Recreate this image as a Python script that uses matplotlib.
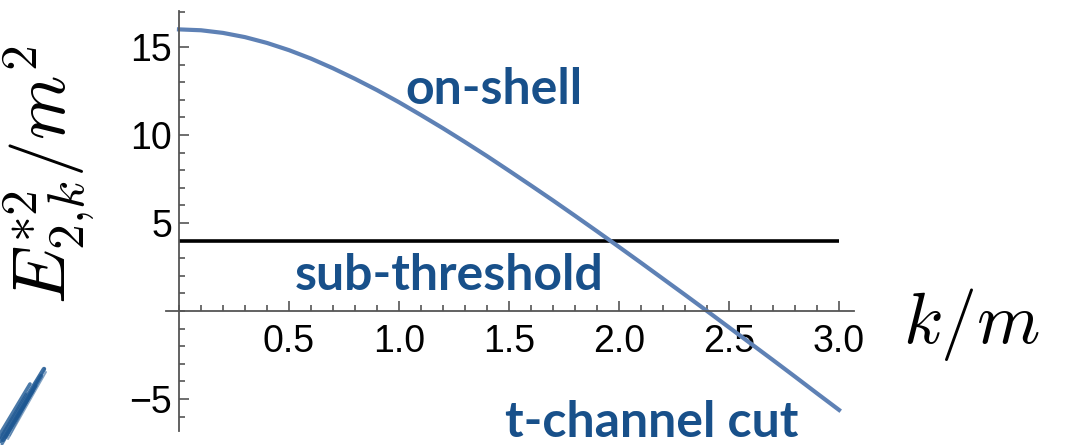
import matplotlib
matplotlib.use("Agg")
import matplotlib.pyplot as plt
from matplotlib.lines import Line2D
from matplotlib.ticker import MultipleLocator, FixedLocator

plt.rcParams["font.family"] = ["Liberation Sans", "DejaVu Sans"]
plt.rcParams["mathtext.fontset"] = "cm"

# Centre-of-mass energy squared of the two-particle state vs spectator momentum
k_over_m = [0.0, 0.1, 0.2, 0.3, 0.4, 0.5, 0.6, 0.7, 0.8, 0.9, 1.0,
            1.1, 1.2, 1.3, 1.4, 1.5, 1.6, 1.7, 1.8, 1.9, 2.0,
            2.1, 2.2, 2.3, 2.4, 2.5, 2.6, 2.7, 2.8, 2.9, 3.0]
E2_star_sq = [16.00, 15.95, 15.80, 15.56, 15.23, 14.82, 14.34, 13.79, 13.19, 12.55, 11.86,
              11.13, 10.38, 9.60, 8.80, 7.97, 7.13, 6.28, 5.41, 4.53, 3.64,
              2.74, 1.83, 0.92, 0.00, -0.93, -1.86, -2.79, -3.73, -4.68, -5.62]

threshold = 4.0            # (2m)^2 in units of m^2
threshold_span = [0.0, 3.0]

x_major = [0.5, 1.0, 1.5, 2.0, 2.5, 3.0]
x_labels = ["0.5", "1.0", "1.5", "2.0", "2.5", "3.0"]
y_major = [-5, 5, 10, 15]
y_labels = ["\u22125", "5", "10", "15"]

region_labels = ["on-shell", "sub-threshold", "t-channel cut"]
region_pos = [(1.027, 11.76), (0.527, 1.19), (1.482, -7.16)]

curve_color = "#5e81b5"
label_color = "#18508a"
axis_color = "#555555"

fig = plt.figure(figsize=(10.71, 4.45), dpi=100)
ax = fig.add_axes([0.1548, 0.0321, 0.6430, 0.9434])
ax.set_xlim(-0.06, 3.07)
ax.set_ylim(-6.8, 17.05)

for side in ("top", "right"):
    ax.spines[side].set_visible(False)
ax.spines["left"].set_position(("data", 0))
ax.spines["bottom"].set_position(("data", 0))
for side in ("left", "bottom"):
    ax.spines[side].set_color(axis_color)
    ax.spines[side].set_linewidth(1.3)

ax.xaxis.set_major_locator(FixedLocator(x_major))
ax.set_xticklabels(x_labels, fontfamily="Liberation Sans", fontsize=27)
ax.xaxis.set_minor_locator(MultipleLocator(0.1))
ax.yaxis.set_major_locator(FixedLocator(y_major))
ax.set_yticklabels(y_labels, fontfamily="Liberation Sans", fontsize=27)
ax.yaxis.set_minor_locator(MultipleLocator(1))

ax.tick_params(which="both", direction="in", color=axis_color, width=1.2)
ax.tick_params(which="major", length=7)
ax.tick_params(which="minor", length=4)
ax.tick_params(axis="x", which="major", pad=9)
ax.tick_params(axis="y", which="major", pad=5)

ax.plot(threshold_span, [threshold, threshold], color="black", lw=2.6, solid_capstyle="butt")
ax.plot(k_over_m, E2_star_sq, color=curve_color, lw=3.0, clip_on=False)

for text, (tx, ty) in zip(region_labels, region_pos):
    ax.text(tx, ty, text, color=label_color, fontsize=36, fontfamily="Lato",
            fontweight="bold", ha="left", va="baseline", clip_on=False)

fig.text(903 / 1071, 1 - 343 / 445, r"$k/m$", fontsize=52, ha="left", va="baseline")
fig.text(49 / 1071, 1 - 175 / 445, r"$E^{*2}_{2,\!k}/m^2$", fontsize=53,
         rotation=90, ha="center", va="center")

# pen stroke in the lower-left corner
strokes = [((0, 441), (44, 369), 3.2, 0.85), ((3, 440), (41, 376), 3.0, 0.8),
           ((0, 434), (30, 384), 2.6, 0.8), ((8, 439), (46, 372), 1.4, 0.55),
           ((2, 444), (36, 386), 2.2, 0.75), ((6, 437), (33, 391), 2.4, 0.7),
           ((0, 438), (26, 394), 1.8, 0.7), ((10, 436), (45, 368), 0.8, 0.45)]
for (x0, y0), (x1, y1), w, a in strokes:
    fig.add_artist(Line2D([x0 / 1071, x1 / 1071], [1 - y0 / 445, 1 - y1 / 445],
                          transform=fig.transFigure, color="#1d5792", lw=w, alpha=a,
                          solid_capstyle="round"))

fig.savefig("out.png", dpi=100)
